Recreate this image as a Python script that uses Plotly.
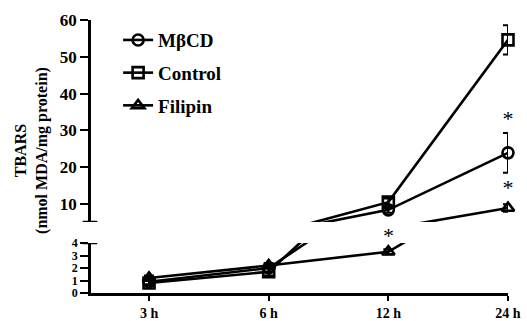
import plotly.graph_objects as go

times = ["3 h", "6 h", "12 h", "24 h"]
mbcd = [0.9, 2.0, 8.4, 23.9]
mbcd_err = [0.2, 0.3, 0.8, 5.4]
control = [0.8, 1.7, 10.5, 54.6]
control_err = [0.2, 0.3, 1.0, 4.0]
filipin = [1.2, 2.2, 3.3, 8.9]
filipin_err = [0.2, 0.2, 0.2, 1.0]

# significance marks on the upper segment: (time, value)
stars_upper = [("24 h", 32.8), ("24 h", 13.8)]
# significance mark in the break, above the 12 h Filipin point
star_break = "12 h"

lower_ticks = [0, 1, 2, 3, 4]
upper_ticks = [10, 20, 30, 40, 50, 60]
lower_range = [0, 4]
upper_range = [5.1, 60]

FONT = "Liberation Serif"
series = [
    ("MβCD", mbcd, mbcd_err, "circle-open"),
    ("Control", control, control_err, "square-open"),
    ("Filipin", filipin, filipin_err, "triangle-up-open"),
]

fig = go.Figure()
for i, (name, vals, err, sym) in enumerate(series):
    for ax in ["y", "y2"]:
        fig.add_trace(go.Scatter(
            x=times, y=vals, name=name, xaxis="x", yaxis=ax,
            mode="lines+markers",
            line=dict(color="black", width=2.6),
            marker=dict(symbol=sym, size=11, color="black", line=dict(width=2.6, color="black")),
            error_y=dict(type="data", array=err, color="black", thickness=2, width=5),
            showlegend=(ax == "y"), legendgroup=name, cliponaxis=(ax == "y"),
        ))

fig.add_trace(go.Scatter(
    x=[s[0] for s in stars_upper], y=[s[1] for s in stars_upper], xaxis="x", yaxis="y2",
    mode="text", text=["*"] * len(stars_upper), textposition="middle center",
    cliponaxis=False, showlegend=False, hoverinfo="skip",
    textfont=dict(family=FONT, size=22, color="black"),
))
fig.add_annotation(x=star_break, y=1.44, xref="x", yref="y domain", text="*", showarrow=False,
                   font=dict(family=FONT, size=22, color="black"))

# y title
fig.add_annotation(x=-0.1415, y=0.524, xref="paper", yref="paper",
                   text="<b>TBARS</b><br><b>(nmol MDA/mg protein)</b>", textangle=-90,
                   showarrow=False, xanchor="center", yanchor="middle",
                   font=dict(family=FONT, size=16, color="black"))

# break caps
fig.add_shape(type="line", xref="x domain", yref="y2", x0=-0.02, x1=0.015,
              y0=upper_range[0], y1=upper_range[0], line=dict(color="black", width=2.5))
fig.add_shape(type="line", xref="x domain", yref="y", x0=-0.02, x1=0.015,
              y0=lower_range[1], y1=lower_range[1], line=dict(color="black", width=2.5))

axis_common = dict(showgrid=False, zeroline=False, showline=True, linecolor="black", linewidth=2.5,
                   ticks="outside", tickwidth=2, tickcolor="black", automargin=False)

fig.update_layout(
    width=527, height=321,
    margin=dict(l=91, r=19, t=20, b=28, autoexpand=False),
    paper_bgcolor="white", plot_bgcolor="white",
    xaxis=dict(type="category", range=[-0.485, 3], ticklen=5, **axis_common,
               tickvals=times, ticktext=[f"<b>{t}</b>" for t in times],
               tickfont=dict(family=FONT, size=14, color="black")),
    yaxis=dict(domain=[0, 50 / 273], range=lower_range, tickvals=lower_ticks,
               ticktext=[f"<b>{v}</b>" for v in lower_ticks], anchor="x", ticklen=8,
               tickfont=dict(family=FONT, size=12, color="black"), **axis_common),
    yaxis2=dict(domain=[71 / 273, 1], range=upper_range, tickvals=upper_ticks,
                ticktext=[f"<b>{v}</b>" for v in upper_ticks], anchor="x", ticklen=8,
                tickfont=dict(family=FONT, size=17, color="black"), **axis_common),
    showlegend=True,
    legend=dict(x=0.065, y=0.996, xanchor="left", yanchor="top", bgcolor="rgba(0,0,0,0)",
                font=dict(family=FONT, size=19, color="black", weight="bold"), traceorder="grouped",
                tracegroupgap=5, itemwidth=30),
)

fig.write_html("out.html", post_script="document.body.style.margin='0';",
               config={"displayModeBar": False})
